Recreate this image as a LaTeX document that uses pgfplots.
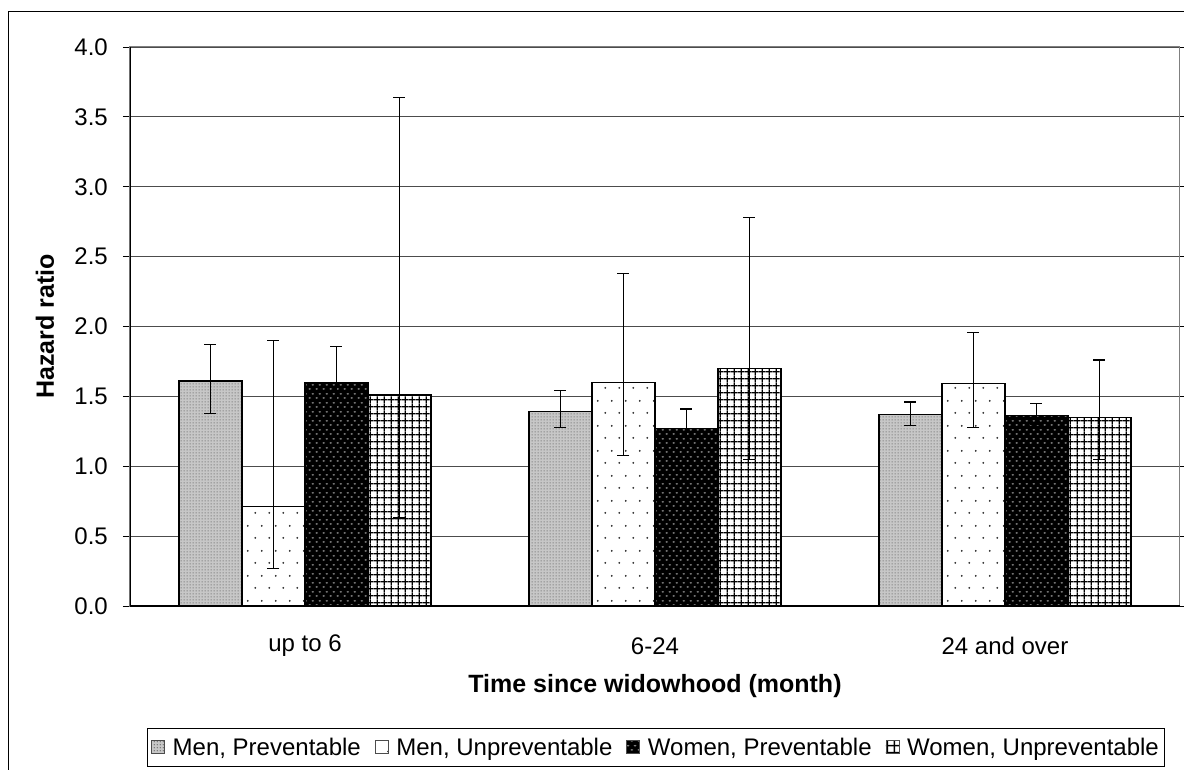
\documentclass[border=0pt]{standalone}
\usepackage{fontspec}
\setmainfont{Liberation Sans}
\usepackage{pgfplots}
\pgfplotsset{compat=1.18}
\usetikzlibrary{patterns.meta}

\tikzdeclarepattern{
  name=finedots, type=uncolored,
  bottom left={(0pt,0pt)}, top right={(3pt,3pt)},
  tile size={(3pt,3pt)},
  code={\fill (1.5pt,1.5pt) circle (0.8pt);}
}
\tikzdeclarepattern{
  name=sparsedots, type=uncolored,
  bottom left={(0pt,0pt)}, top right={(14pt,25pt)},
  tile size={(14pt,25pt)},
  code={
    \fill (3.5pt,6.25pt) circle (1.05pt);
    \fill (10.5pt,18.75pt) circle (1.05pt);
  }
}
\tikzdeclarepattern{
  name=dashes, type=uncolored,
  bottom left={(0pt,0pt)}, top right={(7pt,9pt)},
  tile size={(7pt,9pt)},
  code={
    \fill (2pt,2.25pt) ellipse (1.6pt and 0.9pt);
    \fill (5.5pt,6.75pt) ellipse (1.6pt and 0.9pt);
  }
}
\tikzdeclarepattern{
  name=thickgrid, type=uncolored,
  bottom left={(0pt,0pt)}, top right={(6.8pt,6.8pt)},
  tile size={(6.8pt,6.8pt)},
  code={
    \fill (2.7pt,0pt) rectangle (4.1pt,6.8pt);
    \fill (0pt,2.7pt) rectangle (6.8pt,4.1pt);
  }
}

\begin{document}
\begin{tikzpicture}
\path[use as bounding box] (0,0) rectangle (1184pt,769pt);
\draw[line width=1pt] (8pt,-20pt) rectangle (1210pt,757pt);
\begin{axis}[
  at={(130pt,163pt)}, anchor=south west,
  scale only axis, width=1050pt, height=559pt,
  xmin=-0.5, xmax=2.5, ymin=0, ymax=4,
  ybar, bar width=0.18,
  ytick={0,0.5,1,1.5,2,2.5,3,3.5,4},
  /pgf/number format/fixed, /pgf/number format/fixed zerofill,
  /pgf/number format/precision=1, /pgf/number format/assume math mode=true,
  xtick={0,1,2},
  xticklabels={up to 6, 6-24, 24 and over},
  xtick style={draw=none},
  major tick length=7pt,
  ytick style={draw=black, line width=0.8pt},
  tick align=outside,
  ymajorgrids,
  grid style={black!70, line width=0.9pt},
  axis line style={black!50, line width=1pt},
  tick label style={font=\fontsize{24}{28}\selectfont},
  xticklabel style={anchor=center, yshift=-33pt},
  yticklabel style={anchor=east, inner sep=0pt, xshift=-15pt},
  xlabel={Time since widowhood (month)},
  ylabel={Hazard ratio},
  label style={font=\bfseries\fontsize{25}{29}\selectfont},
  xlabel style={at={(axis description cs:0.5,-0.143)}, anchor=center},
  ylabel style={at={(axis description cs:-0.081,0.5)}, anchor=center},
  legend style={at={(0.501,-0.253)}, anchor=center, legend columns=-1,
    draw=black, line width=0.8pt, font=\fontsize{24}{28}\selectfont,
    inner xsep=4pt, inner ysep=8pt,
    /tikz/every odd column/.append style={column sep=6pt},
    /tikz/every even column/.append style={column sep=12pt}},
  legend image code/.code={\draw[#1, draw=black!70, line width=0.5pt] (0pt,-6pt) rectangle (13pt,7pt);},
  error bars/y dir=both, error bars/y explicit,
  error bars/error bar style={black, line width=1.1pt},
  error bars/error mark options={black, line width=1.1pt, mark size=6pt, rotate=90},
]
\addplot[fill=black!22, postaction={pattern={finedots}, pattern color=black!62}, draw=black, line width=1.1pt, bar shift=-0.27]
  coordinates {(0,1.61) += (0,0.26) -= (0,0.23)
               (1,1.39) += (0,0.15) -= (0,0.11)
               (2,1.37) += (0,0.09) -= (0,0.08)};
\addplot[fill=white, postaction={pattern={sparsedots}, pattern color=black!85}, draw=black, line width=1.1pt, bar shift=-0.09]
  coordinates {(0,0.71) += (0,1.19) -= (0,0.44)
               (1,1.60) += (0,0.78) -= (0,0.52)
               (2,1.59) += (0,0.37) -= (0,0.31)};
\addplot[fill=black, postaction={pattern={dashes}, pattern color=black!45}, draw=black, line width=1.1pt, bar shift=0.09]
  coordinates {(0,1.60) += (0,0.26) -= (0,0.23)
               (1,1.27) += (0,0.14) -= (0,0.12)
               (2,1.36) += (0,0.09) -= (0,0.06)};
\addplot[fill=white, postaction={pattern={thickgrid}, pattern color=black}, draw=black, line width=1.1pt, bar shift=0.27]
  coordinates {(0,1.51) += (0,2.13) -= (0,0.88)
               (1,1.70) += (0,1.08) -= (0,0.65)
               (2,1.35) += (0,0.41) -= (0,0.30)};
\legend{{Men, Preventable},{Men, Unpreventable},{Women, Preventable},{Women, Unpreventable}}
\draw[black, line width=1.2pt] (rel axis cs:0,0) -- (rel axis cs:1,0);
\draw[black, line width=1.2pt] (rel axis cs:0,0) -- (rel axis cs:0,1);
\draw[black, line width=0.8pt] (axis cs:-0.5,0) -- ++(0pt,-7pt);
\draw[black, line width=0.8pt] (axis cs:0.5,0) -- ++(0pt,-7pt);
\draw[black, line width=0.8pt] (axis cs:1.5,0) -- ++(0pt,-7pt);
\draw[black, line width=0.8pt] (axis cs:2.5,0) -- ++(0pt,-7pt);
\end{axis}
\end{tikzpicture}
\end{document}
